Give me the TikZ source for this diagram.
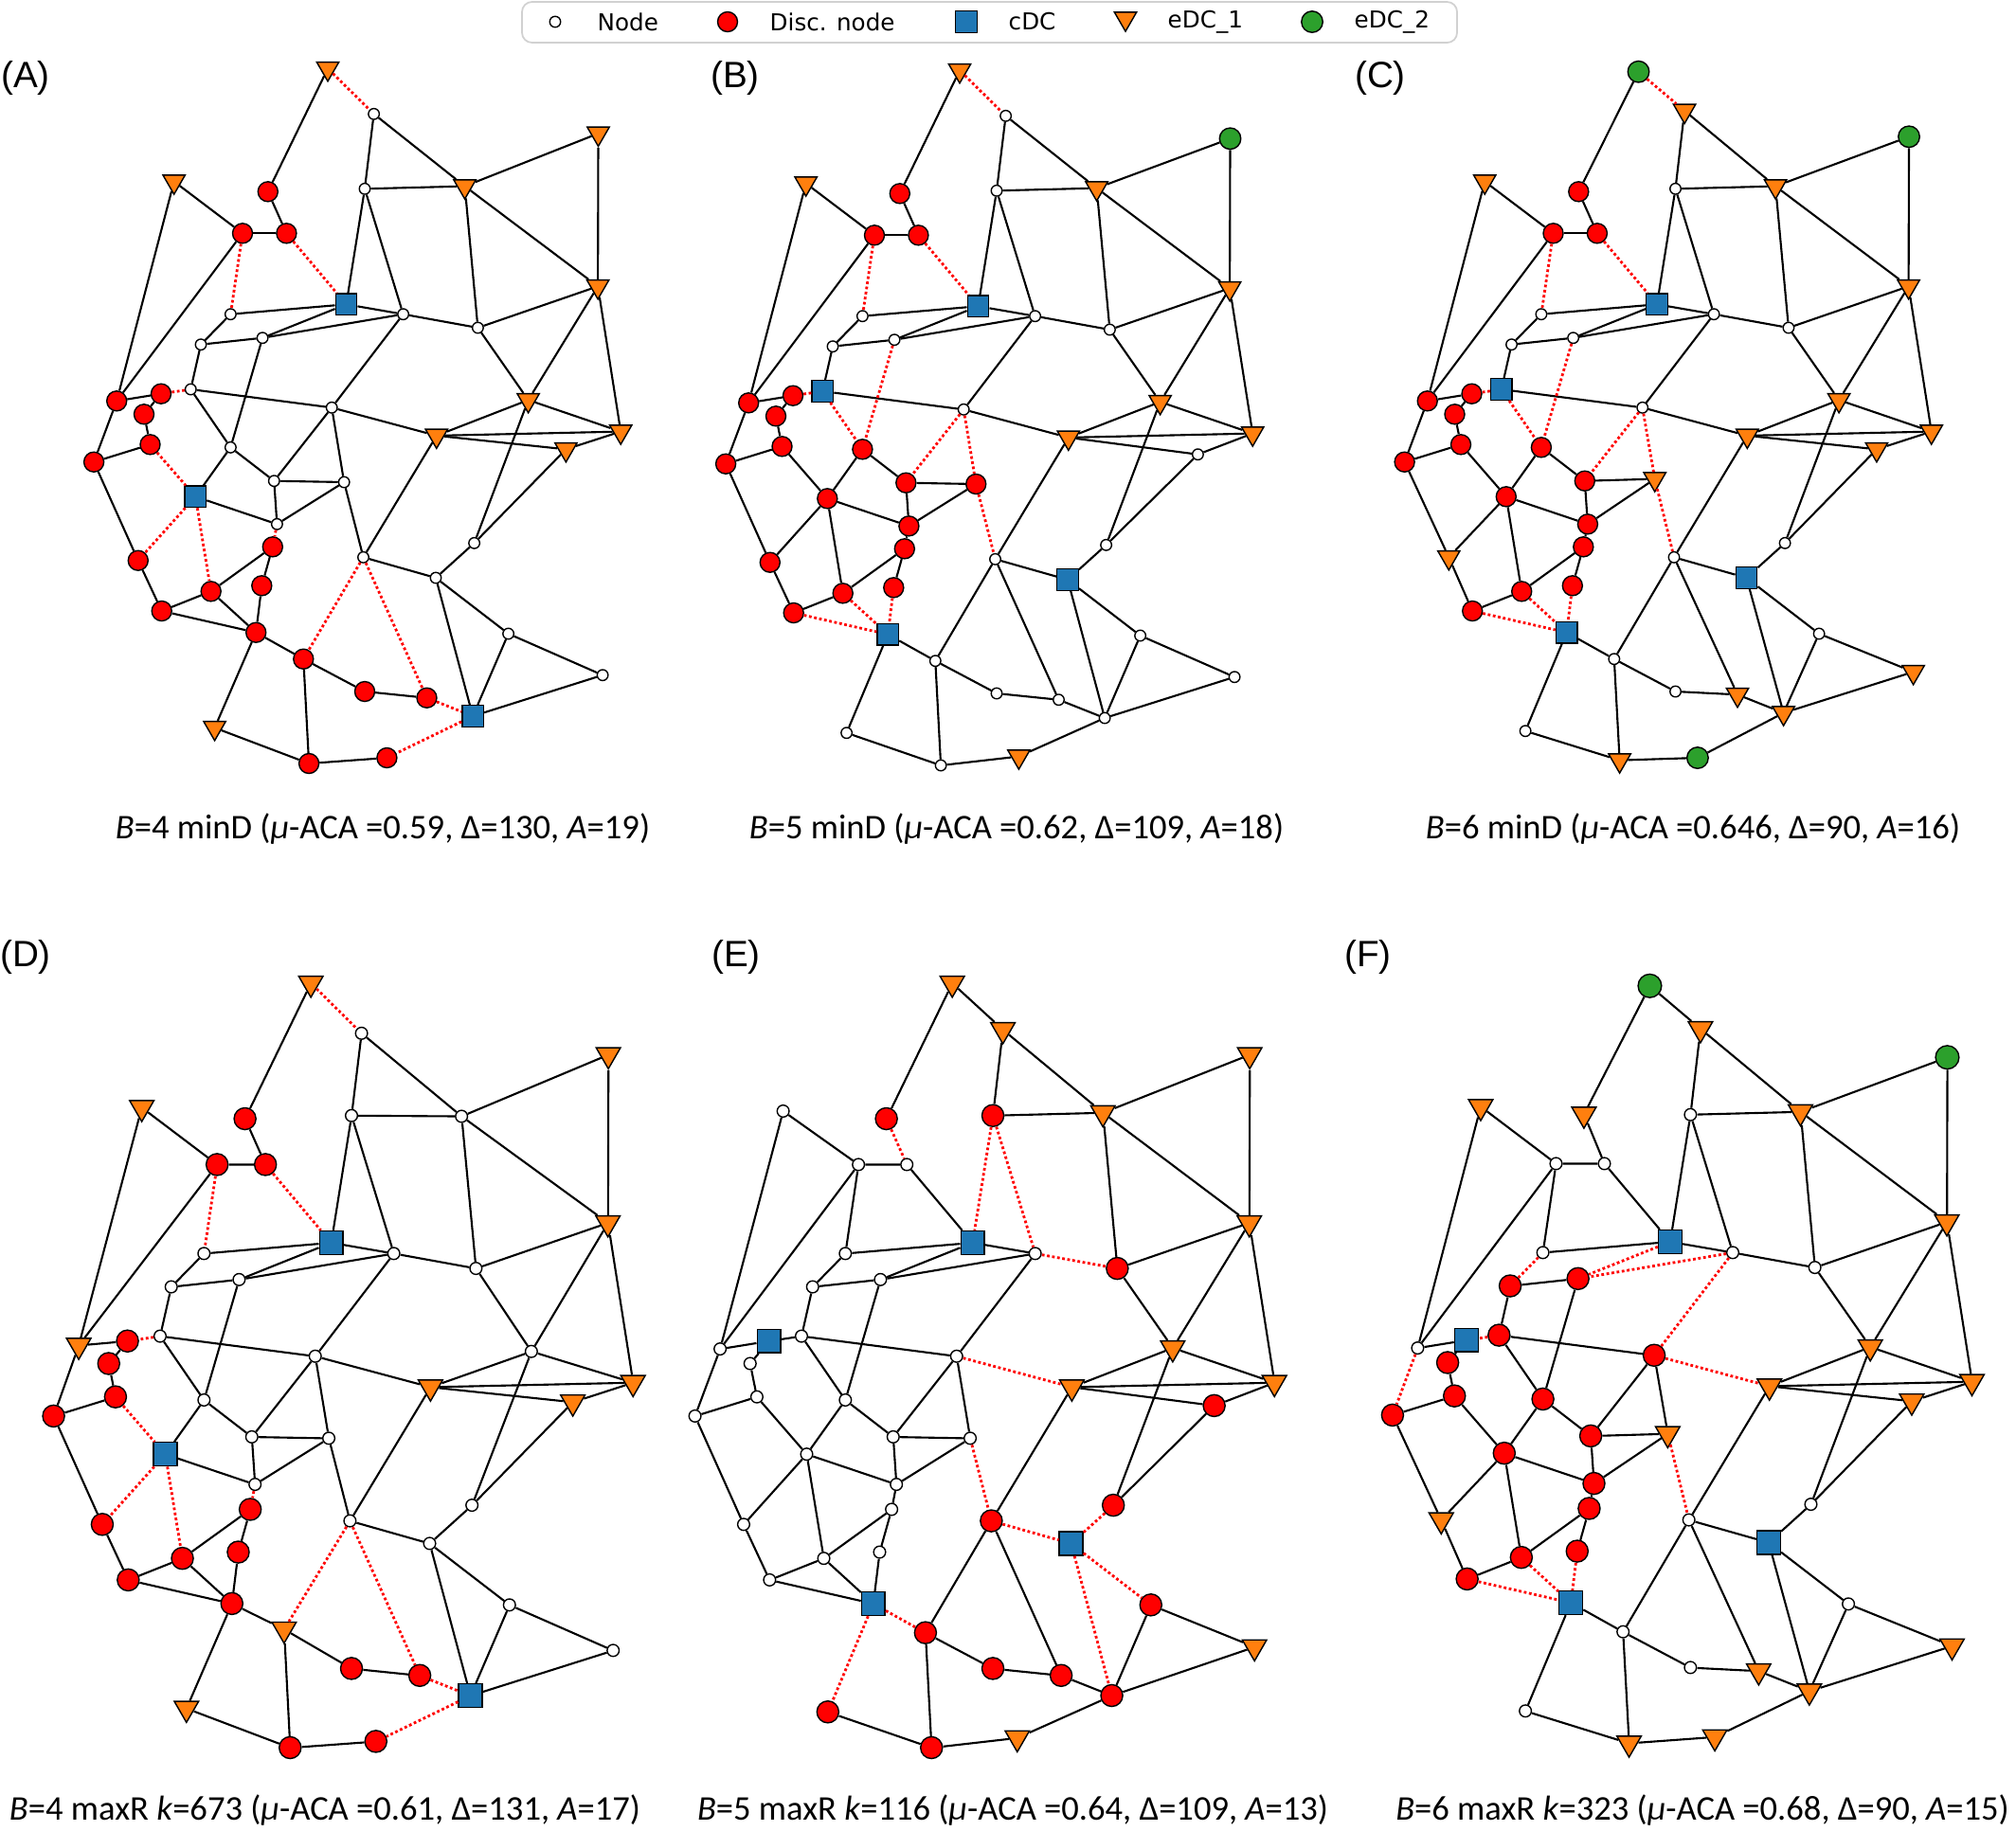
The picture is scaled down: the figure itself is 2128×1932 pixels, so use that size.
\documentclass[tikz,border=0pt]{standalone}
\usepackage{fontspec}
\setmainfont{Carlito}
\newfontfamily\panelfont{Liberation Sans}
\newfontfamily\legendfont{DejaVu Sans}
\usetikzlibrary{shapes.geometric}

\definecolor{cdcblue}{HTML}{1F77B4}
\definecolor{edcorange}{HTML}{FF7F0E}
\definecolor{edcgreen}{HTML}{2CA02C}

\tikzset{
  marker/.style={draw=black, line width=0.4pt, inner sep=0pt},
  netnode/.style={marker, circle, fill=white, minimum size=0.115cm},
  discnode/.style={marker, circle, fill=red, minimum size=0.21cm},
  cdcnode/.style={marker, rectangle, fill=cdcblue, minimum size=0.225cm},
  edcone/.style={marker, regular polygon, regular polygon sides=3, shape border rotate=180,
    fill=edcorange, minimum size=0.27cm, yshift=0.34mm},
  edctwo/.style={marker, circle, fill=edcgreen, minimum size=0.225cm},
  link/.style={black, line width=0.6pt},
  cutlink/.style={red, line width=0.8pt, dash pattern=on 0.8pt off 0.75pt},
  caption/.style={font=\fontsize{10.4}{12}\selectfont},
  panel/.style={font=\panelfont\fontsize{11}{13}\selectfont},
  legtext/.style={font=\legendfont\fontsize{7}{8}\selectfont, anchor=west, inner sep=0pt},
  legframe/.style={draw=black!18, line width=0.5pt, rounded corners=3pt},
}

% network layout (pixels, panel A)
\newcommand{\netnodes}{1/346/75.7, 2/394.6/120.3, 3/631.5/144.3, 4/183.7/195,
  5/282.8/202.3, 6/385/199.3, 7/490.6/200, 8/256/246.3, 9/302.4/246.3,
  10/365.5/321.3, 11/243.4/331.7, 12/425.6/331.7, 13/504.4/346, 14/631.1/305.7,
  15/212/363.7, 16/277.1/356.7, 17/201.3/411, 18/170/415.7, 19/152/437.3,
  20/123.2/423.3, 21/350.2/430.3, 22/557.6/425.7, 23/460.8/463.3, 24/655.2/459,
  25/597.4/477.7, 26/158.5/469.3, 27/99.1/487.7, 28/243.4/472.3, 29/206.3/524.3,
  30/289.3/507.7, 31/363.2/509, 32/292.4/553.3, 33/287.8/577.3, 34/383.5/588.3,
  35/500.6/573.3, 36/145.8/591.7, 37/222.7/624.3, 38/460/610, 39/276.3/618.3,
  40/170.7/645, 41/270.2/667.7, 42/536.6/669, 43/320.3/695.7, 44/636.1/712.7,
  45/385/730, 46/450.5/736.7, 47/499.1/756, 48/226.6/771.7, 49/326.1/806,
  50/408.4/800}

\newcommand{\netedges}{1/2, 1/5, 2/6, 2/7, 3/7, 3/14, 4/8, 4/20, 5/9, 8/9, 8/20,
  8/11, 9/10, 6/7, 6/10, 6/12, 7/13, 7/14, 10/11, 10/12, 10/16, 11/15, 15/16,
  12/16, 12/13, 13/14, 13/22, 14/22, 14/24, 12/21, 15/17, 17/18, 18/20, 18/19,
  17/21, 17/28, 16/28, 20/27, 19/26, 21/31, 21/30, 21/23, 22/23, 22/24, 22/35,
  23/24, 23/25, 24/25, 23/34, 25/35, 35/38, 34/38, 31/34, 30/31, 28/30, 28/29,
  30/32, 31/32, 29/32, 32/33, 26/27, 26/29, 27/36, 29/36, 29/37, 33/37, 33/39,
  36/40, 37/40, 40/41, 37/41, 39/41, 41/43, 41/48, 34/43, 34/46, 43/45, 45/46,
  46/47, 43/49, 48/49, 49/50, 47/50, 38/47, 38/42, 42/47, 42/44, 44/47}

% removed links of each panel
\newcommand{\cutlinks}[2]{%
  \foreach \src/\dst in {#2}{\expandafter\xdef\csname cut#1-\src-\dst\endcsname{}}}

\cutlinks{a}{1/2, 8/11, 9/10, 17/18, 32/33, 26/29, 29/36, 29/37, 34/43, 34/46, 46/47, 47/50}
\cutlinks{b}{1/2, 8/11, 9/10, 17/18, 17/28, 16/28, 21/30, 21/31, 31/34, 40/41, 37/41, 39/41}
\cutlinks{c}{1/2, 8/11, 9/10, 17/18, 17/28, 16/28, 21/30, 21/31, 31/34, 40/41, 37/41, 39/41}
\cutlinks{d}{1/2, 8/11, 9/10, 17/18, 26/29, 29/36, 29/37, 32/33, 34/43, 34/46, 46/47, 47/50}
\cutlinks{e}{5/9, 6/10, 6/12, 12/13, 21/23, 31/34, 34/38, 35/38, 38/42, 38/47, 41/43, 41/48}
\cutlinks{f}{11/15, 10/16, 12/16, 12/21, 17/18, 20/27, 21/23, 31/34, 40/41, 37/41, 39/41}

% one panel: #1 name prefix, #2 kind/{members} lists
\newcommand{\drawnet}[2]{%
  \foreach \i/\x/\y in \netnodes {\coordinate (#1p\i) at (\x,\y);}
  \foreach \kind/\members in {#2}{%
    \foreach \i in \members {\node[\kind] (#1\i) at (#1p\i) {};}}
  \foreach \src/\dst in \netedges {%
    \ifcsname cut#1-\src-\dst\endcsname
      \draw[cutlink] (#1\src) -- (#1\dst);
    \else
      \draw[link] (#1\src) -- (#1\dst);
    \fi}}

\begin{document}
\begin{tikzpicture}[x=0.01cm, y=-0.01cm]
  \useasboundingbox (0,0) rectangle (2128,1932);

  % legend
  \draw[legframe] (551,2) rectangle (1538,45);
  \node[netnode] (lgnet) at (586,23) {};
  \node[legtext] (lgnettext) at (630,23) {Node};
  \node[discnode] (lgdisc) at (768,23) {};
  \node[legtext] (lgdisctext) at (812,23) {Disc. node};
  \node[cdcnode] (lgcdc) at (1020,23) {};
  \node[legtext] (lgcdctext) at (1064,23) {cDC};
  \node[edcone] (lgedcone) at (1188,23) {};
  \node[legtext] (lgedconetext) at (1232,23) {eDC\_1};
  \node[edctwo] (lgedctwo) at (1385,23) {};
  \node[legtext] (lgedctwotext) at (1429,23) {eDC\_2};

  % top row: minD
  \node[panel] (labA) at (27,82) {(A)};
  \drawnet{a}{netnode/{2,6,11,12,13,15,16,17,21,28,30,31,32,34,35,38,42,44},
    discnode/{5,8,9,18,19,20,26,27,33,36,37,39,40,41,43,45,46,49,50},
    cdcnode/{10,29,47}, edcone/{1,3,4,7,14,22,23,24,25,48}}
  \node[caption] (capA) at (404,875) {\textit{B}=4 minD (\textit{μ}-ACA =0.59, Δ=130, \textit{A}=19)};

  \node[panel] (labB) at (776,82) {(B)};
  \begin{scope}[shift={(667,2)}]
    \drawnet{b}{netnode/{2,6,11,12,13,15,16,21,25,34,35,42,43,44,45,46,47,48,49},
      discnode/{5,8,9,18,19,20,26,27,28,29,30,31,32,33,36,37,39,40},
      cdcnode/{10,17,38,41}, edcone/{1,4,7,14,22,23,24,50}, edctwo/{3}}
  \end{scope}
  \node[caption] (capB) at (1073,875) {\textit{B}=5 minD (\textit{μ}-ACA =0.62, Δ=109, \textit{A}=18)};

  \node[panel] (labC) at (1457,82) {(C)};
  \begin{scope}[shift={(1383.5,0)}]
    \drawnet{c}{netnode/{6,11,12,13,15,16,21,34,35,42,43,45,48},
      discnode/{5,8,9,18,19,20,26,27,28,29,30,32,33,37,39,40},
      cdcnode/{10,17,38,41}, edcone/{2,4,7,14,22,23,24,25,31,36,44,46,47,49},
      edctwo/{1,3,50}}
  \end{scope}
  \node[caption] (capC) at (1787,875) {\textit{B}=6 minD (\textit{μ}-ACA =0.646, Δ=90, \textit{A}=16)};

  % bottom row: maxR
  \node[panel] (labD) at (27,1010) {(D)};
  \begin{scope}[shift={(-52.4,958.5)}, scale=1.0996, transform shape]
    \drawnet{d}{netnode/{2,6,7,11,12,13,15,16,17,21,22,28,30,31,32,34,35,38,42,44},
      discnode/{5,8,9,18,19,26,27,33,36,37,39,40,41,45,46,49,50},
      cdcnode/{10,29,47}, edcone/{1,3,4,14,20,23,24,25,43,48}}
  \end{scope}
  \node[caption] (capD) at (343,1911) {\textit{B}=4 maxR \textit{k}=673 (\textit{μ}-ACA =0.61, Δ=131, \textit{A}=17)};

  \node[panel] (labE) at (777,1010) {(E)};
  \begin{scope}[shift={(624.6,958.5)}, scale=1.0996, transform shape]
    \drawnet{e}{netnode/{4,8,9,11,12,15,16,17,19,20,21,26,27,28,29,30,31,32,33,36,37,39,40},
      discnode/{5,6,13,25,34,35,42,43,45,46,47,48,49},
      cdcnode/{10,18,38,41}, edcone/{1,2,3,7,14,22,23,24,44,50}}
  \end{scope}
  \node[caption] (capE) at (1069,1911) {\textit{B}=5 maxR \textit{k}=116 (\textit{μ}-ACA =0.64, Δ=109, \textit{A}=13)};

  \node[panel] (labF) at (1444,1010) {(F)};
  \begin{scope}[shift={(1360.9,957.5)}, scale=1.0996, transform shape]
    \drawnet{f}{netnode/{6,8,9,11,12,13,20,34,35,42,43,45,48},
      discnode/{15,16,17,19,21,26,27,28,29,30,32,33,37,39,40},
      cdcnode/{10,18,38,41}, edcone/{2,4,5,7,14,22,23,24,25,31,36,44,46,47,49,50},
      edctwo/{1,3}}
  \end{scope}
  \node[caption] (capF) at (1797,1911) {\textit{B}=6 maxR \textit{k}=323 (\textit{μ}-ACA =0.68, Δ=90, \textit{A}=15)};
\end{tikzpicture}
\end{document}
